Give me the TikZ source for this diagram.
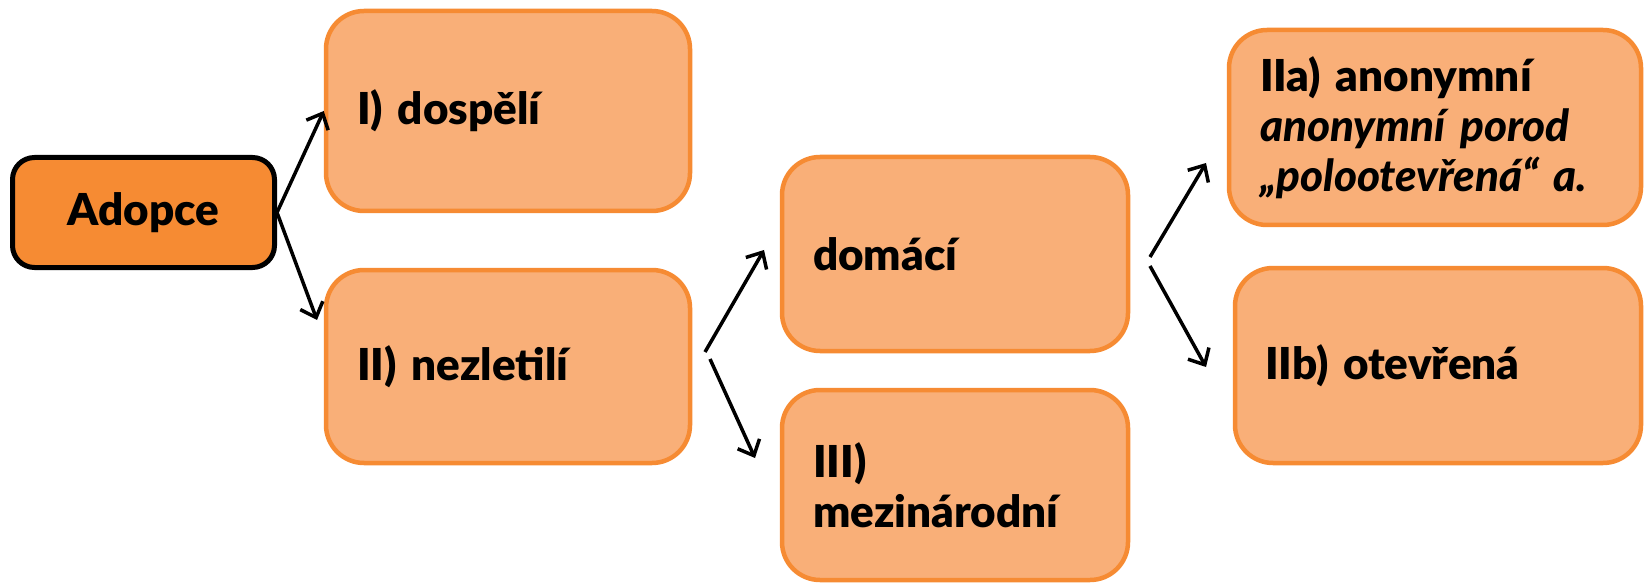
\documentclass[tikz,border=0pt]{standalone}
\usepackage{fontspec}
\setmainfont{Lato}[BoldFont={Lato Black}, BoldItalicFont={Lato Black Italic}]
\usetikzlibrary{arrows.meta}
\definecolor{orD}{HTML}{F68B33}
\definecolor{orL}{HTML}{F9AF78}
\tikzset{
  box/.style={draw=orD, fill=orL, line width=4.5pt, rounded corners=38pt,
    inner xsep=31pt, inner ysep=0pt, align=left, anchor=center,
    font=\fontsize{44}{50}\selectfont\bfseries},
  rootbox/.style={draw=black, fill=orD, line width=5pt, rounded corners=22pt,
    inner sep=0pt, align=center, anchor=center,
    font=\fontsize{44}{50}\selectfont\bfseries},
  conn/.style={line width=3.5pt, -{Straight Barb[length=13pt,width=24pt]}}
}
\begin{document}
\begin{tikzpicture}[x=1pt,y=-1pt]
\useasboundingbox (0,0) rectangle (1645,585);
\node[rootbox, minimum width=262pt, minimum height=110pt] (adopce) at (143.5,212.5) {Adopce};
\node[box, minimum width=364pt, minimum height=200pt, text width=302pt] (dosp) at (508,111) {I) dospělí};
\node[box, minimum width=364pt, minimum height=193pt, text width=302pt] (nez) at (508,366.5) {II) nezletilí};
\node[box, minimum width=346pt, minimum height=194pt, text width=284pt] (dom) at (955,254) {domácí};
\node[box, minimum width=346pt, minimum height=190pt, text width=284pt] (mez) at (955,485) {III)\\mezinárodní};
\node[box, minimum width=412pt, minimum height=195pt, text width=350pt] (anon) at (1435,127.5) {IIa) anonymní\\\itshape anonymní porod\\\itshape „polootevřená“ a.};
\node[box, minimum width=406pt, minimum height=195pt, text width=346pt, inner xsep=29pt] (otev) at (1438,365.5) {IIb) otevřená};
\coordinate (a2e) at (317,320);
\coordinate (n1s) at (705,352);
\coordinate (n1e) at (764,250);
\coordinate (n2s) at (710,359);
\coordinate (n2e) at (755,458);
\coordinate (d1s) at (1150,257);
\coordinate (d1e) at (1206,163);
\coordinate (d2s) at (1150,266);
\coordinate (d2e) at (1206,367);
\draw[conn] (adopce.east) -- (dosp.west);
\draw[conn] (adopce.east) -- (a2e);
\draw[conn] (n1s) -- (n1e);
\draw[conn] (n2s) -- (n2e);
\draw[conn] (d1s) -- (d1e);
\draw[conn] (d2s) -- (d2e);
\end{tikzpicture}
\end{document}
